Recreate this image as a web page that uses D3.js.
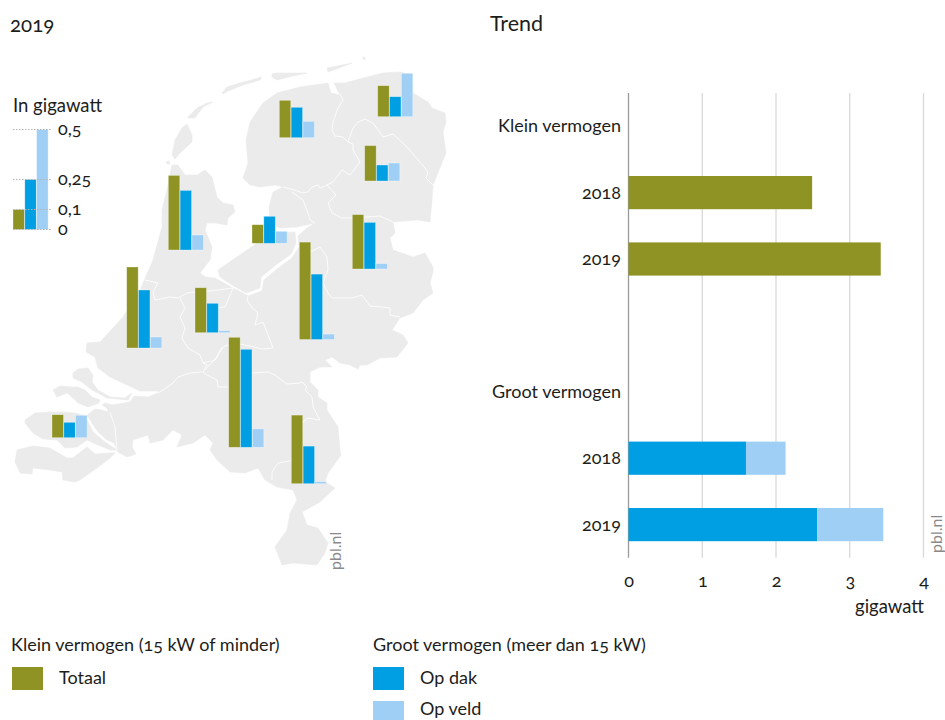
<!DOCTYPE html>
<html>
<head>
<meta charset="utf-8">
<script src="https://cdn.jsdelivr.net/npm/d3@7"></script>
<style>
  body { margin: 0; background: #fff; }
  svg { display: block; }
  text { font-family: Lato, "Open Sans", sans-serif; fill: #1d1d1b; font-variant-numeric: oldstyle-nums; }
  .pbl { fill: #8a8a8a; font-size: 16px; }
</style>
</head>
<body>
<div class="chart"></div>
<script>
  // regional values, gigawatt
  const provinces = ["Groningen", "Friesland", "Drenthe", "Overijssel", "Flevoland", "Noord-Holland",
    "Gelderland", "Utrecht", "Zuid-Holland", "Noord-Brabant", "Limburg", "Zeeland"];
  const kleinTotaal = [0.155, 0.187, 0.177, 0.272, 0.093, 0.373, 0.487, 0.225, 0.405, 0.55, 0.343, 0.115];
  const grootDak = [0.1, 0.152, 0.08, 0.233, 0.135, 0.298, 0.327, 0.147, 0.29, 0.49, 0.188, 0.077];
  const grootVeld = [0.217, 0.082, 0.09, 0.027, 0.06, 0.075, 0.027, 0.01, 0.055, 0.092, 0.01, 0.112];

  // scale legend
  const legendValues = [0.1, 0.25, 0.5];
  const legendTicks = [0, 0.1, 0.25, 0.5];
  const legendLabels = ["0", "0,1", "0,25", "0,5"];

  // trend
  const trendRows = ["Klein vermogen", "k2018", "k2019", "leeg", "Groot vermogen", "g2018", "g2019"];
  const trendKlein = [["k2018", 2.49], ["k2019", 3.42]];
  const trendDak = [["g2018", 1.593], ["g2019", 2.56]];
  const trendVeld = [["g2018", 0.537], ["g2019", 0.895]];
  const trendTicks = [0, 1, 2, 3, 4];

  const olive = "#8f9323", blue = "#009fe3", lightBlue = "#a0cff5", land = "#ebebeb";

  // where each small chart stands on the map
  const provinceAnchors = [[377.7, 116.7], [279.3, 137.7], [364.7, 181], [352.3, 269], [252, 243.3], [168.3, 250],
    [299.3, 339.5], [195, 332.7], [126.7, 348], [228.7, 447.3], [291.3, 483.7], [52, 437.7]];

  // base map, traced in page pixels
  const mainland = [[172,165],[178,165],[185,175],[197,175],[205,170],[212,177],[217,197],[223,203],[233,205],[235,212],[228,218],[227,225],[215,223],[207,223],[205,230],[212,247],[210,260],[200,273],[205,277],[215,278],[233,288],[243,293],[248,296],[262,291],[264,280],[277,269],[292,258],[299,247],[298,236],[307,228],[315,223],[297,227],[280,228],[270,223],[269,207],[273,192],[283,187],[275,185],[260,187],[250,185],[243,178],[248,163],[246,140],[250,122],[263,103],[277,93],[300,87],[328,83],[331,93],[340,95],[334,83],[345,83],[363,78],[383,73],[400,72],[412,75],[413,93],[428,102],[432,108],[445,113],[446,122],[443,132],[446,153],[433,185],[432,200],[430,222],[417,220],[393,222],[395,233],[390,238],[393,250],[413,257],[425,253],[433,267],[433,272],[430,283],[433,293],[423,300],[413,313],[400,318],[392,330],[403,335],[408,343],[397,357],[380,358],[367,365],[360,365],[358,369],[350,365],[340,363],[332,357],[325,360],[332,367],[320,367],[310,372],[310,382],[318,390],[318,397],[327,403],[327,410],[338,427],[340,450],[341,455],[328,473],[325,482],[335,488],[320,502],[302,512],[307,525],[318,528],[328,543],[325,553],[317,565],[293,563],[282,565],[275,547],[287,530],[290,513],[297,500],[293,490],[277,487],[265,480],[258,468],[245,473],[230,472],[217,460],[210,450],[213,443],[205,435],[193,443],[177,447],[182,435],[173,430],[163,440],[150,443],[148,435],[133,440],[132,447],[136,454],[127,457],[118,452],[114,443],[107,440],[98,432],[92,423],[87,415],[95,409],[102,410],[108,412],[107,408],[102,405],[105,403],[112,405],[130,402],[134,396],[148,397],[160,391],[153,391],[140,391],[125,384],[110,377],[98,368],[95,357],[86,352],[87,343],[100,342],[123,317],[140,290],[153,260],[162,227],[162,210],[168,185]];
  const flevoland = [[218,270],[250,248],[262,240],[275,233],[295,232],[296,243],[291,254],[276,265],[261,277],[260,288],[246,293],[232,285],[220,277]];
  const texel = [[187,124],[192,135],[192,142],[180,153],[175,159],[172,155],[175,140],[182,128]];
  const vlieland = [[188,118],[195,118],[203,107],[213,102],[207,103],[197,108],[188,117]];
  const terschelling = [[222,93],[227,87],[240,83],[262,77],[260,80],[243,85],[228,91],[223,94]];
  const ameland = [[272,74],[277,73],[307,73],[293,76],[277,80],[272,77]];
  const schiermonnikoog = [[327,68],[337,66],[352,63],[342,67],[328,72]];
  const rottum = [[363,57],[365,57],[365,60],[363,59]];
  const noorderhaaks = [[166,162],[169,161],[170,164],[167,164]];
  const goeree = [[73,373],[78,369],[88,368],[93,375],[92,382],[98,390],[110,397],[125,398],[132,393],[128,400],[118,399],[107,398],[98,393],[92,390],[82,382],[73,378]];
  const schouwen = [[53,390],[60,386],[72,387],[78,387],[85,390],[92,397],[100,400],[99,403],[88,407],[78,403],[73,398],[67,393],[57,397]];
  const walcheren = [[25,420],[35,413],[50,412],[63,412],[75,413],[85,416],[93,432],[105,442],[117,450],[110,450],[98,445],[87,440],[77,447],[65,448],[57,440],[43,439],[33,433],[25,423]];
  const zeeuwsVlaanderen = [[115,453],[110,458],[97,468],[80,480],[75,482],[63,480],[62,472],[50,470],[33,468],[32,474],[20,473],[15,462],[17,450],[33,446],[50,448],[67,458],[73,458],[87,447],[95,454],[110,453]];
  const landParts = [mainland, flevoland, texel, vlieland, terschelling, ameland, schiermonnikoog, rottum, noorderhaaks, goeree, schouwen, walcheren, zeeuwsVlaanderen];

  const borders = [
    [[340,94],[343,100],[338,108],[333,122],[332,130],[335,136],[343,137],[348,142],[353,144],[353,150],[360,162],[350,175],[342,170],[333,182],[327,185],[320,188],[318,185],[312,187],[308,192],[302,193],[295,190],[283,187]],
    [[292,192],[303,200],[308,213],[310,220],[315,223]],
    [[327,185],[336,195],[328,203],[332,213],[342,218],[352,218],[380,216],[393,222]],
    [[348,142],[353,128],[358,122],[365,119],[373,123],[378,130],[383,137],[393,134],[407,147],[425,168],[428,172],[426,178],[433,185]],
    [[400,317],[390,315],[390,308],[382,307],[370,306],[362,295],[352,298],[332,298],[328,293],[323,283],[328,270],[327,257],[320,247],[310,252],[299,248]],
    [[248,296],[247,300],[252,308],[258,313],[255,325],[263,322],[268,335],[273,348],[263,349],[245,345],[233,343],[223,347],[217,357],[205,370]],
    [[203,372],[207,375],[217,380],[218,387],[228,387],[240,380],[252,373],[268,372],[275,375],[287,384],[300,383],[302,382],[307,387],[305,390],[312,397],[313,407],[320,420],[308,418],[303,422],[298,440],[295,460],[278,463],[272,472],[272,480]],
    [[145,280],[158,283],[153,292],[155,300],[170,297],[178,298],[187,293],[195,292],[210,291],[233,288]],
    [[233,288],[225,307],[213,308]],
    [[180,298],[185,308],[180,317],[185,328],[182,338],[188,348],[200,355],[203,363],[207,365],[203,372]],
    [[203,363],[215,360],[222,347]],
    [[147,396],[160,392],[173,383],[178,377],[190,373],[202,372]],
    [[110,412],[115,427],[117,450]]
  ];

  const svg = d3.select(".chart").append("svg")
    .attr("width", 945)
    .attr("height", 720);

  // map
  const outline = d3.line().curve(d3.curveLinearClosed);
  const borderLine = d3.line();

  svg.append("g").selectAll("path")
    .data(landParts)
    .join("path")
      .attr("d", outline)
      .attr("fill", land)
      .attr("stroke", land)
      .attr("stroke-width", 0.6)
      .attr("stroke-linejoin", "round");

  svg.append("g").selectAll("path")
    .data(borders)
    .join("path")
      .attr("d", borderLine)
      .attr("fill", "none")
      .attr("stroke", "#fff")
      .attr("stroke-width", 0.8);

  // small charts share one scale: 0,5 GW is 100 px
  const barHeight = d3.scaleLinear().domain([0, 0.5]).range([0, 100]);
  const barX = d3.scaleBand().domain([0, 1, 2]).range([0, 35.1]).paddingInner(0.03);
  const seriesColors = [olive, blue, lightBlue];

  function smallBars(g, values) {
    g.selectAll("rect")
      .data(values)
      .join("rect")
        .attr("x", (d, i) => barX(i))
        .attr("y", d => -barHeight(d))
        .attr("width", barX.bandwidth())
        .attr("height", d => barHeight(d))
        .attr("fill", (d, i) => seriesColors[i])
        .attr("stroke", "#fff")
        .attr("stroke-opacity", 0.45)
        .attr("stroke-width", 0.7);
  }

  provinces.forEach((name, i) => {
    svg.append("g")
      .attr("transform", "translate(" + provinceAnchors[i][0] + "," + provinceAnchors[i][1] + ")")
      .call(smallBars, [kleinTotaal[i], grootDak[i], grootVeld[i]]);
  });

  // scale legend
  const legend = svg.append("g").attr("transform", "translate(13,229.5)");

  legend.call(smallBars, legendValues);

  legend.selectAll("line")
    .data(legendTicks)
    .join("line")
      .attr("x1", 0)
      .attr("x2", 39)
      .attr("y1", d => -barHeight(d))
      .attr("y2", d => -barHeight(d))
      .attr("stroke", "#b5b5b5")
      .attr("stroke-width", 1)
      .attr("stroke-dasharray", "1.5 1.5");

  legend.selectAll("text")
    .data(legendTicks)
    .join("text")
      .attr("x", 45)
      .attr("y", d => -barHeight(d) + 5.5)
      .attr("font-size", 18)
      .text((d, i) => legendLabels[i]);

  svg.append("text").attr("x", 13).attr("y", 112).attr("font-size", 18.5).text("In gigawatt");

  // titles
  svg.append("text").attr("x", 10).attr("y", 32).attr("font-size", 20.5).text("2019");
  svg.append("text").attr("x", 490).attr("y", 31).attr("font-size", 21.5).text("Trend");

  // trend chart
  const x = d3.scaleLinear().domain([0, 4]).range([628.5, 923.5]);
  const y = d3.scaleBand().domain(trendRows).range([93, 557.8]).paddingInner(0.5).paddingOuter(0.25);

  const xAxis = d3.axisBottom(x)
    .tickValues(trendTicks)
    .tickSize(0)
    .tickPadding(16)
    .tickFormat(d3.format("d"));

  const axisG = svg.append("g")
    .attr("transform", "translate(0,557.8)")
    .call(xAxis);
  axisG.select(".domain").remove();
  axisG.selectAll("text")
    .attr("font-size", 18);

  svg.append("g").selectAll("line")
    .data(trendTicks)
    .join("line")
      .attr("x1", d => x(d))
      .attr("x2", d => x(d))
      .attr("y1", 93)
      .attr("y2", 557.8)
      .attr("stroke", d => d === 0 ? "#9a9a9a" : "#d9d9d9")
      .attr("stroke-width", 1.3);

  const rowLabels = [["Klein vermogen", "Klein vermogen"], ["k2018", "2018"], ["k2019", "2019"],
    ["Groot vermogen", "Groot vermogen"], ["g2018", "2018"], ["g2019", "2019"]];

  svg.append("g").selectAll("text")
    .data(rowLabels)
    .join("text")
      .attr("x", 621)
      .attr("y", d => y(d[0]) + y.bandwidth() / 2 + 6)
      .attr("text-anchor", "end")
      .attr("font-size", 18)
      .text(d => d[1]);

  svg.append("g").selectAll("rect")
    .data(trendKlein)
    .join("rect")
      .attr("x", x(0))
      .attr("y", d => y(d[0]))
      .attr("width", d => x(d[1]) - x(0))
      .attr("height", y.bandwidth())
      .attr("fill", olive);

  svg.append("g").selectAll("rect")
    .data(trendDak)
    .join("rect")
      .attr("x", x(0))
      .attr("y", d => y(d[0]))
      .attr("width", d => x(d[1]) - x(0))
      .attr("height", y.bandwidth())
      .attr("fill", blue);

  svg.append("g").selectAll("rect")
    .data(trendVeld)
    .join("rect")
      .attr("x", (d, i) => x(trendDak[i][1]))
      .attr("y", d => y(d[0]))
      .attr("width", d => x(d[1]) - x(0))
      .attr("height", y.bandwidth())
      .attr("fill", lightBlue);

  svg.append("text")
    .attr("x", 924)
    .attr("y", 613)
    .attr("text-anchor", "end")
    .attr("font-size", 18.5)
    .text("gigawatt");

  svg.append("text").attr("class", "pbl")
    .attr("transform", "translate(341,570) rotate(-90)")
    .text("pbl.nl");
  svg.append("text").attr("class", "pbl")
    .attr("transform", "translate(942,553) rotate(-90)")
    .text("pbl.nl");

  // bottom legend
  const legendItems = [
    { label: "Totaal", color: olive, col: 12, row: 667, base: 684 },
    { label: "Op dak", color: blue, col: 373, row: 667, base: 684 },
    { label: "Op veld", color: lightBlue, col: 373, row: 701, base: 715 }
  ];

  svg.append("text").attr("x", 11).attr("y", 651).attr("font-size", 18).text("Klein vermogen (15 kW of minder)");
  svg.append("text").attr("x", 373).attr("y", 651).attr("font-size", 18).text("Groot vermogen (meer dan 15 kW)");

  svg.append("g").selectAll("rect")
    .data(legendItems)
    .join("rect")
      .attr("x", d => d.col)
      .attr("y", d => d.row)
      .attr("width", 31)
      .attr("height", 23)
      .attr("fill", d => d.color);

  svg.append("g").selectAll("text")
    .data(legendItems)
    .join("text")
      .attr("x", d => d.col + 47)
      .attr("y", d => d.base)
      .attr("font-size", 18)
      .text(d => d.label);
</script>
</body>
</html>
